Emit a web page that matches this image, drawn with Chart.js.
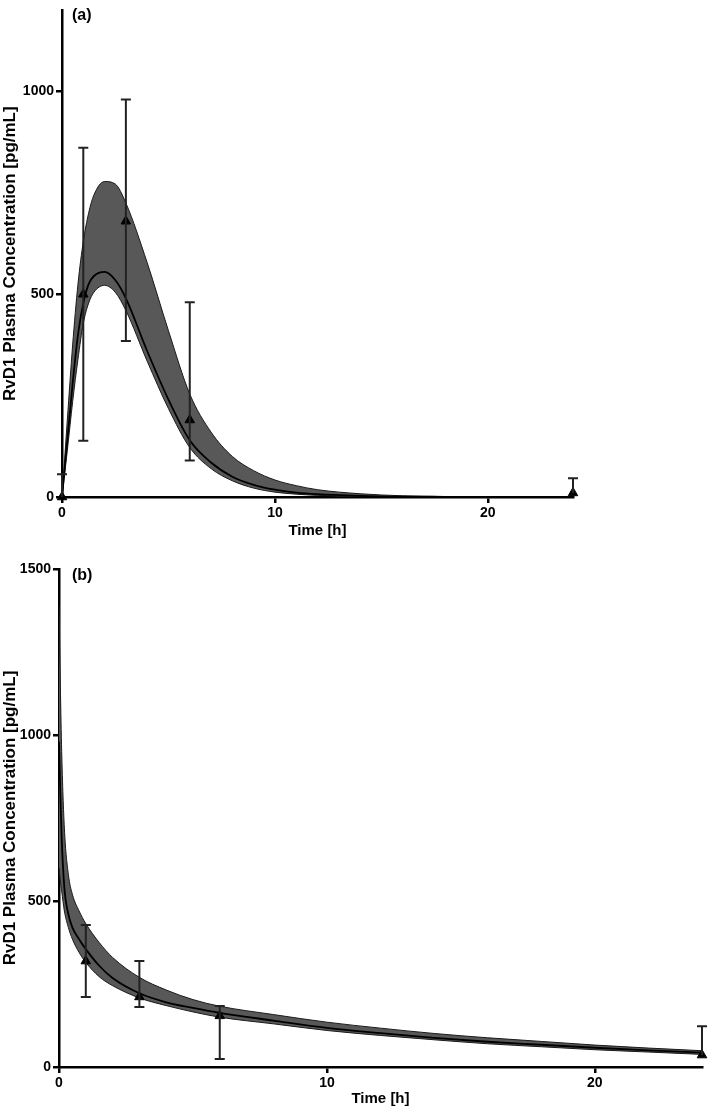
<!DOCTYPE html>
<html>
<head>
<meta charset="utf-8">
<script src="https://cdn.jsdelivr.net/npm/chart.js@4.4.1/dist/chart.umd.min.js"></script>
<style>
  body { margin: 0; background: #fff; width: 709px; height: 1108px; position: relative; overflow: hidden; }
  .panel { position: absolute; left: 0; width: 709px; }
  .tag { position: absolute; font: bold 16px "Liberation Sans", Arial, sans-serif; color: #000; }
</style>
</head>
<body>
<div class="panel" style="top:0;height:540px"><canvas id="chartA"></canvas></div>
<div class="panel" style="top:540px;height:568px"><canvas id="chartB"></canvas></div>
<div class="tag" style="left:72px;top:6px">(a)</div>
<div class="tag" style="left:72px;top:566px">(b)</div>
<script>
// panel (a) - model prediction band (time in h, conc in pg/mL)
const timeA   = [0, 0.25, 0.5, 0.75, 1, 1.25, 1.5, 2, 2.5, 3, 4, 5, 6, 7, 8, 9, 10, 11, 12, 14, 16, 18, 20, 24];
const medianA = [0, 140, 280, 400, 478, 525, 545, 555, 535, 490, 360, 240, 140, 85, 50, 30, 18, 11, 7, 3, 1, 0.5, 0.2, 0];
const lowerA  = [0, 115, 235, 340, 428, 478, 505, 522, 505, 460, 335, 218, 122, 70, 40, 22, 12, 7, 4, 1.5, 0.5, 0.2, 0.1, 0];
const upperA  = [0, 190, 375, 525, 630, 700, 745, 778, 772, 725, 578, 410, 254, 160, 100, 65, 42, 28, 18, 8, 3, 1, 0.5, 0];
// panel (a) - observed mean with error bars
const obsTimeA = [0, 1, 3, 6, 24];
const obsMeanA = [0, 500, 680, 190, 10];
const obsLowA  = [0, 139, 385, 90, 10];
const obsHighA = [56, 861, 980, 480, 46];

// panel (b)
const timeB   = [0, 0.05, 0.1, 0.2, 0.35, 0.5, 0.75, 1, 1.5, 2, 3, 4, 5, 6, 8, 10, 12, 14, 16, 18, 20, 22, 24];
const medianB = [980, 820, 690, 540, 460, 420, 385, 355, 305, 268, 222, 195, 178, 163, 140, 118, 102, 88, 76, 67, 58, 50, 43];
const lowerB  = [600, 560, 530, 470, 420, 385, 345, 315, 272, 245, 208, 185, 166, 150, 130, 110, 95, 82, 70, 61, 52, 45, 38];
const upperB  = [1390, 1150, 950, 720, 580, 520, 470, 432, 375, 330, 270, 232, 203, 183, 158, 135, 117, 101, 88, 77, 66, 57, 49];
const obsTimeB = [1, 3, 6, 24];
const obsMeanB = [319, 211, 154, 36];
const obsLowB  = [211, 181, 24, 36];
const obsHighB = [428, 319, 184, 123];

// tick labels
const xTicks  = [0, 10, 20];
const yTicksA = [0, 500, 1000];
const yTicksB = [0, 500, 1000, 1500];

const FONT = '"Liberation Sans", Arial, sans-serif';

// draws vertical error bars with caps, using the chart scales
const errorBarPlugin = {
  id: 'errorBars',
  afterDatasetsDraw(chart, args, opts) {
    const { ctx, scales: { x, y } } = chart;
    ctx.save();
    ctx.strokeStyle = '#222';
    ctx.lineWidth = 2;
    opts.times.forEach((t, i) => {
      const px = x.getPixelForValue(t);
      const pm = y.getPixelForValue(opts.mean[i]);
      const lo = y.getPixelForValue(opts.low[i]);
      const hi = y.getPixelForValue(opts.high[i]);
      ctx.beginPath();
      ctx.moveTo(px, lo);
      ctx.lineTo(px, hi);
      ctx.moveTo(px - 5, hi);
      ctx.lineTo(px + 5, hi);
      if (Math.abs(lo - pm) > 1) {
        ctx.moveTo(px - 5, lo);
        ctx.lineTo(px + 5, lo);
      }
      ctx.stroke();
    });
    ctx.restore();
  }
};

function toXY(xs, ys) {
  return xs.map((v, i) => ({ x: v, y: ys[i] }));
}

function axis(max, tickValues, fitSize, isX, titleText) {
  return {
    type: 'linear',
    min: 0,
    max: max,
    border: { display: true, color: '#000', width: 2.5 },
    grid: { drawOnChartArea: false, drawTicks: true, tickLength: 6, color: '#000', lineWidth: 2.5 },
    ticks: {
      color: '#000',
      padding: 2,
      maxRotation: 0,
      autoSkip: false,
      callback: v => String(v),
      font: { family: FONT, weight: 'bold', size: 14 }
    },
    title: {
      display: true,
      text: titleText,
      color: '#000',
      padding: isX ? { top: -3, bottom: 0 } : { top: 0, bottom: 0 },
      font: { family: FONT, weight: 'bold', size: isX ? 15 : 17 }
    },
    afterBuildTicks: s => { s.ticks = tickValues.map(v => ({ value: v })); },
    afterFit: s => { if (isX) s.height = fitSize; else s.width = fitSize; }
  };
}

function makeChart(id, d) {
  const canvas = document.getElementById(id);
  return new Chart(canvas, {
    type: 'line',
    data: {
      datasets: [
        {
          data: toXY(d.time, d.upper), fill: '+1', backgroundColor: '#585858', order: 3,
          borderColor: '#1a1a1a', borderWidth: 1, pointRadius: 0, cubicInterpolationMode: 'monotone'
        },
        {
          data: toXY(d.time, d.lower), fill: false, order: 2,
          borderColor: '#1a1a1a', borderWidth: 1, pointRadius: 0, cubicInterpolationMode: 'monotone'
        },
        {
          data: toXY(d.time, d.median), fill: false, order: 1,
          borderColor: '#000', borderWidth: 1.8, pointRadius: 0, cubicInterpolationMode: 'monotone'
        },
        {
          data: toXY(d.obsTime, d.obsMean), showLine: false, clip: false, order: 0,
          pointStyle: 'triangle', pointRadius: 5.5, pointBackgroundColor: '#000', pointBorderColor: '#000'
        }
      ]
    },
    options: {
      responsive: true,
      maintainAspectRatio: false,
      animation: false,
      layout: { padding: d.padding },
      plugins: {
        legend: { display: false },
        tooltip: { enabled: false },
        errorBars: { times: d.obsTime, mean: d.obsMean, low: d.obsLow, high: d.obsHigh }
      },
      scales: {
        x: axis(24, xTicks, d.xHeight, true, 'Time [h]'),
        y: axis(d.yMax, d.yTicks, d.yWidth, false, 'RvD1 Plasma Concentration [pg/mL]')
      }
    },
    plugins: [errorBarPlugin]
  });
}

makeChart('chartA', {
  time: timeA, median: medianA, lower: lowerA, upper: upperA,
  obsTime: obsTimeA, obsMean: obsMeanA, obsLow: obsLowA, obsHigh: obsHighA,
  yMax: 1200, yTicks: yTicksA, yWidth: 62, xHeight: 43,
  padding: { left: 0, right: 136, top: 4, bottom: 0 }
});

makeChart('chartB', {
  time: timeB, median: medianB, lower: lowerB, upper: upperB,
  obsTime: obsTimeB, obsMean: obsMeanB, obsLow: obsLowB, obsHigh: obsHighB,
  yMax: 1500, yTicks: yTicksB, yWidth: 59, xHeight: 41,
  padding: { left: 0, right: 7, top: 29, bottom: 0 }
});
</script>
</body>
</html>
